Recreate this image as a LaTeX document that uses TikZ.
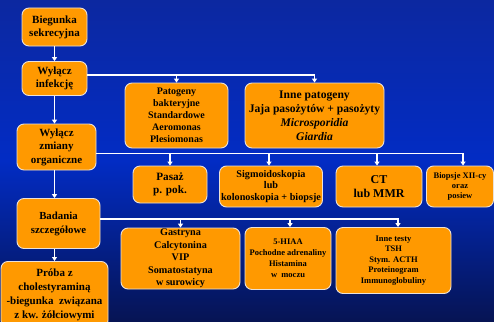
\documentclass[tikz,border=0pt]{standalone}
\usepackage{fontspec}
\setmainfont{Liberation Serif}
\usetikzlibrary{arrows.meta}
\definecolor{bgtop}{RGB}{12,40,160}
\definecolor{bgmid}{RGB}{2,44,196}
\definecolor{bgbot}{RGB}{6,20,84}
\definecolor{boxfill}{RGB}{255,153,0}
\definecolor{boxline}{RGB}{235,225,215}
\tikzset{
  box/.style={draw=boxline, line width=0.9pt, fill=boxfill, rounded corners=7pt,
    align=center, inner sep=1pt, text=black, font=\bfseries},
  conn/.style={draw=white, line width=1.3pt, -{Triangle[width=5pt,length=4pt]}},
}
\newcommand{\fs}[2]{\fontsize{#1}{#2}\selectfont}
\begin{document}
\begin{tikzpicture}[x=1pt,y=-1pt]
\shade[top color=bgtop, bottom color=bgbot, middle color=bgmid] (0,0) rectangle (494,321);
\useasboundingbox (0,0) rectangle (494,321);
% left column
\node[box, minimum width=65, minimum height=38, font=\bfseries\fs{11}{13}] (bieg) at (54.5,27) {Biegunka\\sekrecyjna};
\node[box, minimum width=65, minimum height=34, font=\bfseries\fs{11}{13}] (inf) at (54.5,78.5) {Wyłącz\\infekcję};
\node[box, minimum width=79, minimum height=46, font=\bfseries\fs{11}{13.5}] (zmi) at (56.5,147) {Wyłącz\\zmiany\\organiczne};
\node[box, minimum width=83, minimum height=50, font=\bfseries\fs{10.8}{14}] (bad) at (58.5,223.5) {Badania\\szczegółowe};
\node[box, minimum width=107, minimum height=66, font=\bfseries\fs{11}{14}, anchor=north] (pro) at (54.5,261) {Próba z\\cholestyraminą\\-biegunka~ związana\\z kw. żółciowymi};
% row 1
\node[box, minimum width=103, minimum height=65, font=\bfseries\fs{10}{12}] (pat) at (176.5,115.5) {Patogeny\\bakteryjne\\Standardowe\\Aeromonas\\Plesiomonas};
\node[box, minimum width=139, minimum height=65, font=\bfseries\fs{11.6}{14}] (inne) at (314.5,115.5) {Inne patogeny\\Jaja pasożytów + pasożyty\\\textit{Microsporidia}\\\textit{Giardia}};
% row 2
\node[box, minimum width=74, minimum height=37, font=\bfseries\fs{11.2}{13.5}] (pas) at (170,184.5) {Pasaż\\p. pok.};
\node[box, minimum width=103, minimum height=41, font=\bfseries\fs{10.2}{11.5}] (sig) at (271,186.5) {Sigmoidoskopia\\lub\\kolonoskopia + biopsje};
\node[box, minimum width=86, minimum height=41, font=\bfseries\fs{12}{14}] (ct) at (379,186.5) {CT\\lub MMR};
\node[box, minimum width=67, minimum height=41, font=\bfseries\fs{8.5}{10}] (bio) at (460,186.5) {Biopsje XII-cy\\oraz\\posiew};
% row 3
\node[box, minimum width=119, minimum height=61, font=\bfseries\fs{10.2}{12.5}] (gas) at (180.5,258.5) {Gastryna\\Calcytonina\\VIP\\Somatostatyna\\w surowicy};
\node[box, minimum width=86, minimum height=62, font=\bfseries\fs{8.5}{11}] (hia) at (288,258.5) {5-HIAA\\Pochodne adrenaliny\\Histamina\\w~ moczu};
\node[box, minimum width=115, minimum height=66, font=\bfseries\fs{8.5}{10.4}] (tes) at (393.5,260.5) {Inne testy\\TSH\\Stym. ACTH\\Proteinogram\\Immunoglobuliny};
% vertical chain
\draw[conn] (bieg) -- (inf);
\draw[conn] (inf) -- (zmi.north -| inf);
\draw[conn] (zmi.south -| inf) -- (bad.north -| inf);
\draw[conn] (bad.south -| inf) -- (pro.north -| inf);
% branch from infection
\coordinate (yi) at (0,75);
\draw[conn] (inf.east |- yi) -| (inne.north);
\draw[conn] (pat.north |- yi) -- (pat.north);
% branch from organic
\coordinate (yz) at (0,153.5);
\draw[conn] (zmi.east |- yz) -| ([xshift=3]bio.north);
\draw[conn] (pas.north |- yz) -- (pas.north);
\draw[conn] ([xshift=-2]sig.north |- yz) -- ([xshift=-2]sig.north);
\draw[conn] ([xshift=-2]ct.north |- yz) -- ([xshift=-2]ct.north);
% branch from tests
\coordinate (yb) at (0,219);
\draw[conn] (bad.east |- yb) -| ([xshift=4.5]tes.north);
\draw[conn] (gas.north |- yb) -- (gas.north);
\draw[conn] ([xshift=2]hia.north |- yb) -- ([xshift=2]hia.north);
\end{tikzpicture}
\end{document}
